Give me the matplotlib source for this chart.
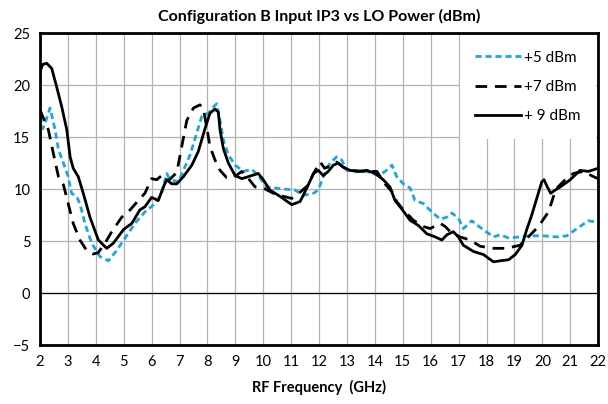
import matplotlib
matplotlib.use("Agg")
import matplotlib.pyplot as plt

# IIP3 (dBm) vs RF frequency (GHz) for three LO drive levels
freq_5 = [2.0, 2.1, 2.2, 2.36, 2.54, 2.66, 2.84, 3.01, 3.13, 3.31, 3.43, 3.61, 3.85,
          4.15, 4.45, 4.75, 5.05, 5.4, 5.76, 6.12, 6.36, 6.54, 6.66, 6.96, 7.14, 7.38,
          7.56, 7.8, 8.03, 8.21, 8.33, 8.45, 8.57, 8.75, 8.99, 9.29, 9.59, 9.82, 10.12,
          10.42, 10.78, 11.14, 11.44, 11.8, 11.97, 12.15, 12.39, 12.63, 12.81, 12.99,
          13.35, 13.71, 14.13, 14.37, 14.61, 14.78, 15.02, 15.26, 15.44, 15.74, 16.04,
          16.34, 16.58, 16.76, 16.99, 17.17, 17.47, 17.83, 18.25, 18.49, 18.79, 19.2,
          19.56, 20.04, 20.52, 20.88, 21.24, 21.65, 22.0]
iip3_5 = [17.0, 15.8, 16.5, 17.8, 15.7, 13.8, 12.5, 11.2, 9.6, 9.3, 8.6, 6.7, 4.8,
          3.5, 3.1, 4.1, 5.3, 6.7, 7.8, 8.6, 9.6, 11.5, 10.9, 10.7, 11.8, 13.3,
          14.9, 17.0, 17.3, 17.9, 18.2, 16.6, 14.7, 13.3, 12.3, 11.7, 11.9, 11.3, 10.2,
          10.1, 10.0, 9.9, 9.4, 9.6, 9.9, 11.2, 12.5, 13.1, 12.8, 11.8,
          11.7, 11.7, 11.3, 11.7, 12.3, 11.2, 10.5, 10.1, 8.9, 8.6, 7.8,
          7.1, 7.3, 7.7, 7.2, 6.2, 6.95, 6.2, 5.4, 5.6, 5.3, 5.4,
          5.5, 5.5, 5.4, 5.5, 6.2, 6.95, 6.8]

freq_7 = [2.0, 2.3, 2.48, 2.66, 2.84, 3.01, 3.19, 3.43, 3.67, 3.91, 4.09, 4.33, 4.57,
          4.93, 5.23, 5.52, 5.76, 6.0, 6.18, 6.36, 6.6, 6.9, 7.08, 7.26, 7.5, 7.73,
          7.85, 7.97, 8.09, 8.27, 8.45, 8.69, 8.93, 9.23, 9.47, 9.71, 10.0, 10.36,
          10.72, 11.02, 11.32, 11.62, 11.8, 12.04, 12.2, 12.45, 12.63, 12.87, 13.1,
          13.6, 14.07, 14.36, 14.66, 14.78, 15.02, 15.38, 15.74, 15.98, 16.34, 16.52,
          16.7, 17.05, 17.41, 17.77, 18.25, 18.73, 19.2, 19.5, 19.86, 20.22, 20.4,
          20.52, 20.82, 21.11, 21.47, 21.83, 22.0]
iip3_7 = [17.6, 15.7, 13.4, 11.2, 10.4, 8.6, 6.7, 5.1, 4.1, 3.75, 3.9, 4.8, 5.9,
          7.3, 8.0, 8.9, 9.6, 11.0, 10.9, 11.3, 10.8, 11.6, 14.1, 16.6, 17.8, 18.1,
          17.8, 16.0, 14.1, 12.8, 11.8, 11.1, 11.1, 11.7, 11.0, 10.2, 10.1, 9.6,
          9.3, 9.1, 9.7, 10.4, 11.5, 12.6, 12.0, 12.3, 12.6, 12.1, 11.8,
          11.7, 11.7, 10.5, 9.6, 8.8, 8.0, 7.0, 6.4, 6.2, 6.7, 6.4,
          5.9, 5.4, 5.1, 4.5, 4.3, 4.3, 4.6, 5.4, 6.4, 7.8, 9.3,
          10.1, 10.9, 11.5, 11.7, 11.2, 11.0]

freq_9 = [2.0, 2.1, 2.24, 2.42, 2.6, 2.78, 2.96, 3.08, 3.19, 3.37, 3.55, 3.79, 4.09,
          4.39, 4.63, 4.99, 5.29, 5.58, 5.76, 6.0, 6.24, 6.42, 6.54, 6.72, 6.9, 7.14,
          7.44, 7.67, 7.91, 8.09, 8.27, 8.39, 8.45, 8.57, 8.75, 8.99, 9.23, 9.47, 9.82,
          10.0, 10.24, 10.6, 11.02, 11.32, 11.56, 11.8, 11.97, 12.15, 12.33, 12.51,
          12.69, 12.87, 13.11, 13.41, 13.71, 14.01, 14.3, 14.54, 14.72, 14.96, 15.26,
          15.56, 15.86, 16.16, 16.4, 16.58, 16.81, 16.99, 17.17, 17.53, 17.89, 18.25,
          18.49, 18.79, 19.03, 19.27, 19.44, 19.62, 19.8, 19.98, 20.06, 20.18, 20.3,
          20.46, 20.64, 21.0, 21.35, 21.65, 22.0]
iip3_9 = [21.3, 22.0, 22.1, 21.6, 19.8, 17.9, 15.7, 13.1, 12.0, 11.2, 9.6, 7.3, 5.1,
          4.3, 4.8, 6.1, 6.7, 8.0, 8.3, 9.2, 8.9, 10.2, 10.9, 10.5, 10.5, 11.2,
          12.3, 13.6, 15.8, 17.3, 17.7, 17.4, 15.7, 13.9, 12.5, 11.3, 11.0, 11.2, 11.5,
          10.9, 9.9, 9.3, 8.5, 8.8, 10.1, 11.5, 11.8, 11.3, 11.7, 12.3,
          12.5, 12.1, 11.8, 11.7, 11.8, 11.5, 10.9, 10.2, 8.9, 8.1, 7.0,
          6.5, 5.7, 5.4, 5.1, 5.6, 5.9, 5.4, 4.6, 4.0, 3.7, 3.0,
          3.1, 3.2, 3.7, 4.6, 6.1, 7.5, 9.1, 10.7, 10.9, 10.2, 9.6,
          9.9, 10.2, 10.9, 11.8, 11.7, 12.0]

x_ticks = list(range(2, 23))
y_ticks = [-5, 0, 5, 10, 15, 20, 25]

plt.rcParams['font.family'] = ['Lato', 'DejaVu Sans']

fig = plt.figure(figsize=(6.08, 4.04), dpi=100)
ax = fig.add_axes([0.0658, 0.146, 0.918, 0.772])

ax.plot(freq_5, iip3_5, color='#1aa7e0', lw=2.0, dashes=(2.2, 1.4), label='+5 dBm')
ax.plot(freq_7, iip3_7, color='black', lw=2.0, dashes=(4.2, 2.8), label='+7 dBm')
ax.plot(freq_9, iip3_9, color='black', lw=2.0, label='+ 9 dBm')

ax.axhline(0, color='black', lw=0.9, zorder=1)

ax.set_xlim(2, 22)
ax.set_ylim(-5, 25)
ax.set_xticks(x_ticks)
ax.set_yticks(y_ticks)
ax.grid(True, color='#b3b3b3', lw=0.9)
ax.set_axisbelow(True)
ax.tick_params(length=0, labelsize=10.5, pad=7)
for s in ax.spines.values():
    s.set_linewidth(2.0)

ax.set_title('Configuration B Input IP3 vs LO Power (dBm)', fontsize=11.5,
             fontweight='bold', pad=9)
ax.set_xlabel('RF Frequency  (GHz)', fontsize=10.5, fontweight='bold', labelpad=8)

leg = ax.legend(loc='upper right', fontsize=11, handlelength=3.0,
                labelspacing=1.0, handletextpad=0.2, borderpad=1.0,
                fancybox=False, framealpha=1, borderaxespad=0.15)
leg.get_frame().set_edgecolor('white')
leg.get_frame().set_linewidth(0)

fig.savefig('out.png', dpi=100)
